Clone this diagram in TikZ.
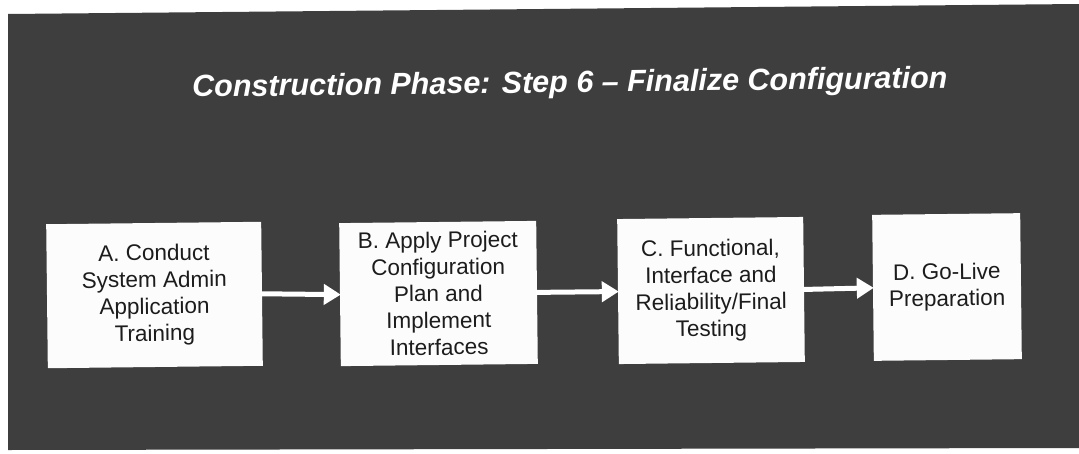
\documentclass[tikz,border=0pt]{standalone}
\usepackage{fontspec}
\setmainfont{Liberation Sans}
\usetikzlibrary{arrows.meta}
\definecolor{panelgrey}{HTML}{3E3E3E}
\definecolor{boxtext}{HTML}{1C1C1C}
\definecolor{boxfill}{HTML}{FCFCFC}
\tikzset{
  stepbox/.style={fill=boxfill, draw=none, rotate=0.65, align=center,
    text=boxtext, inner sep=0pt,
    font=\fontsize{22.5}{26.8}\selectfont},
  flow/.style={draw=white, line width=5pt,
    -{Triangle[length=17pt,width=20pt]}, shorten <=-1pt, shorten >=-1pt},
  heading/.style={text=white, rotate=0.68, anchor=base,
    font=\fontsize{30.5}{34}\selectfont\bfseries\itshape}
}
\begin{document}
\begin{tikzpicture}[x=1pt,y=-1pt]
\useasboundingbox (0,0) rectangle (1079,453);
% dark backdrop panel
\fill[panelgrey] (8,14) -- (1079,4) -- (1079,448) -- (8,450) -- cycle;
% heading
\node[heading] (title) at (570,92.5) {Construction Phase: Step 6 – Finalize Configuration};
% process steps
\node[stepbox, minimum width=215pt, minimum height=144pt] (a) at (154.5,295)
  {A. Conduct\\System Admin\\Application\\Training};
\node[stepbox, minimum width=197pt, minimum height=143pt] (b) at (438.5,293.5)
  {B. Apply Project\\Configuration\\Plan and\\Implement\\Interfaces};
\node[stepbox, minimum width=186pt, minimum height=145pt] (c) at (711,290.5)
  {C. Functional,\\Interface and\\Reliability/Final\\Testing};
\node[stepbox, minimum width=148pt, minimum height=146pt] (d) at (947,287)
  {D. Go-Live\\Preparation};
% connectors
\draw[flow] (a.east) -- (b.west);
\draw[flow] (b.east) -- (c.west);
\draw[flow] (c.east) -- (d.west);
\end{tikzpicture}
\end{document}
